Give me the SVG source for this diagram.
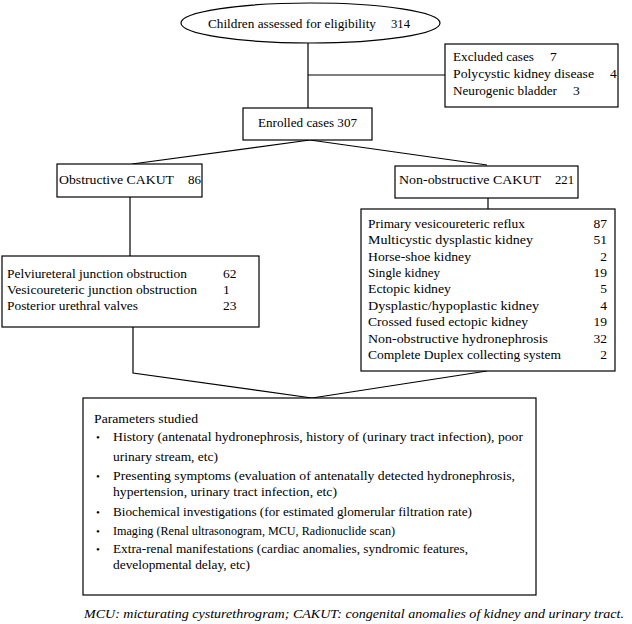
<svg xmlns="http://www.w3.org/2000/svg" width="632" height="624" viewBox="0 0 632 624">
<style>
text{font-family:"Liberation Serif","Times New Roman",serif;font-size:13.5px;fill:#000}
.box{fill:#fff;stroke:#000;stroke-width:1.2}
.ln{fill:none;stroke:#000;stroke-width:1.2}
.num{text-anchor:end}
.cap{font-style:italic;font-size:13px}
.bul{font-size:11px}
</style>
<rect width="632" height="624" fill="#fff"/>
<g id="connectors">
<path class="ln" d="M308,43 V108"/>
<path class="ln" d="M308,75 H445"/>
<path class="ln" d="M310,140 L132,164"/>
<path class="ln" d="M310,140 L487,165"/>
<path class="ln" d="M130,197 V256"/>
<path class="ln" d="M488,198 V209"/>
<path class="ln" d="M133,327 V373 L312,398"/>
<path class="ln" d="M487,371 L312,398"/>
</g>
<g id="assessed">
<ellipse cx="310.5" cy="23" rx="129.5" ry="20" class="box"/>
<text x="208" y="28" textLength="168" lengthAdjust="spacingAndGlyphs">Children assessed for eligibility</text>
<text x="391" y="28" textLength="19" lengthAdjust="spacingAndGlyphs">314</text>
</g>
<g id="excluded">
<rect x="445" y="44" width="173" height="63" class="box"/>
<text x="453" y="61" textLength="81" lengthAdjust="spacingAndGlyphs">Excluded cases</text>
<text x="550" y="61">7</text>
<text x="453" y="78" textLength="141" lengthAdjust="spacingAndGlyphs">Polycystic kidney disease</text>
<text x="610" y="78">4</text>
<text x="453" y="95" textLength="104" lengthAdjust="spacingAndGlyphs">Neurogenic bladder</text>
<text x="573" y="95">3</text>
</g>
<g id="enrolled">
<rect x="243" y="108" width="129" height="32" class="box"/>
<text x="258" y="127" textLength="99" lengthAdjust="spacingAndGlyphs">Enrolled cases 307</text>
</g>
<g id="obstructive">
<rect x="57" y="164" width="145" height="33" class="box"/>
<text x="59" y="184" textLength="115" lengthAdjust="spacingAndGlyphs">Obstructive  CAKUT</text>
<text x="188" y="184" textLength="13" lengthAdjust="spacingAndGlyphs">86</text>
</g>
<g id="nonobstructive">
<rect x="395" y="166" width="183" height="32" class="box"/>
<text x="399" y="184" textLength="142" lengthAdjust="spacingAndGlyphs">Non-obstructive  CAKUT</text>
<text x="555" y="184" textLength="19" lengthAdjust="spacingAndGlyphs">221</text>
</g>
<g id="obstructive-list">
<rect x="2" y="256" width="257" height="71" class="box"/>
<text x="7" y="278" textLength="180" lengthAdjust="spacingAndGlyphs">Pelviureteral junction obstruction</text>
<text x="223" y="278">62</text>
<text x="7" y="294" textLength="190" lengthAdjust="spacingAndGlyphs">Vesicoureteric junction obstruction</text>
<text x="223" y="294">1</text>
<text x="7" y="310" textLength="131" lengthAdjust="spacingAndGlyphs">Posterior urethral valves</text>
<text x="223" y="310">23</text>
</g>
<g id="nonobstructive-list">
<rect x="361" y="209" width="254" height="162" class="box"/>
<text x="368" y="227.5" textLength="157" lengthAdjust="spacingAndGlyphs">Primary vesicoureteric reflux</text>
<text x="607" y="227.5" class="num">87</text>
<text x="368" y="244" textLength="165" lengthAdjust="spacingAndGlyphs">Multicystic  dysplastic  kidney</text>
<text x="607" y="244" class="num">51</text>
<text x="368" y="260.5" textLength="103" lengthAdjust="spacingAndGlyphs">Horse-shoe kidney</text>
<text x="607" y="260.5" class="num">2</text>
<text x="368" y="277" textLength="72" lengthAdjust="spacingAndGlyphs">Single kidney</text>
<text x="607" y="277" class="num">19</text>
<text x="368" y="293" textLength="83" lengthAdjust="spacingAndGlyphs">Ectopic kidney</text>
<text x="607" y="293" class="num">5</text>
<text x="368" y="309.5" textLength="171" lengthAdjust="spacingAndGlyphs">Dysplastic/hypoplastic  kidney</text>
<text x="607" y="309.5" class="num">4</text>
<text x="368" y="326" textLength="160" lengthAdjust="spacingAndGlyphs">Crossed fused ectopic kidney</text>
<text x="607" y="326" class="num">19</text>
<text x="368" y="342.5" textLength="180" lengthAdjust="spacingAndGlyphs">Non-obstructive  hydronephrosis</text>
<text x="607" y="342.5" class="num">32</text>
<text x="368" y="358.5" textLength="193" lengthAdjust="spacingAndGlyphs">Complete Duplex collecting system</text>
<text x="607" y="358.5" class="num">2</text>
</g>
<g id="parameters">
<rect x="83" y="398" width="453" height="197" class="box"/>
<text x="94" y="423" textLength="104" lengthAdjust="spacingAndGlyphs">Parameters studied</text>
<text x="96" y="441" class="bul">•</text>
<text x="113" y="441" textLength="410" lengthAdjust="spacingAndGlyphs">History (antenatal hydronephrosis, history of (urinary tract infection), poor</text>
<text x="113" y="461" textLength="105" lengthAdjust="spacingAndGlyphs">urinary stream, etc)</text>
<text x="96" y="480" class="bul">•</text>
<text x="113" y="480" textLength="402" lengthAdjust="spacingAndGlyphs">Presenting symptoms (evaluation of antenatally detected  hydronephrosis,</text>
<text x="113" y="496" textLength="224" lengthAdjust="spacingAndGlyphs">hypertension, urinary tract infection, etc)</text>
<text x="96" y="516" class="bul">•</text>
<text x="113" y="516" textLength="359" lengthAdjust="spacingAndGlyphs">Biochemical investigations (for estimated glomerular filtration rate)</text>
<text x="96" y="535" class="bul">•</text>
<text x="113" y="535" textLength="282" lengthAdjust="spacingAndGlyphs">Imaging (Renal ultrasonogram, MCU, Radionuclide scan)</text>
<text x="96" y="553" class="bul">•</text>
<text x="113" y="553" textLength="355" lengthAdjust="spacingAndGlyphs">Extra-renal manifestations (cardiac anomalies, syndromic features,</text>
<text x="113" y="569" textLength="137" lengthAdjust="spacingAndGlyphs">developmental delay, etc)</text>
</g>
<text x="84" y="618" class="cap" textLength="540" lengthAdjust="spacingAndGlyphs">MCU: micturating cysturethrogram; CAKUT: congenital anomalies of kidney and urinary tract.</text>
</svg>
